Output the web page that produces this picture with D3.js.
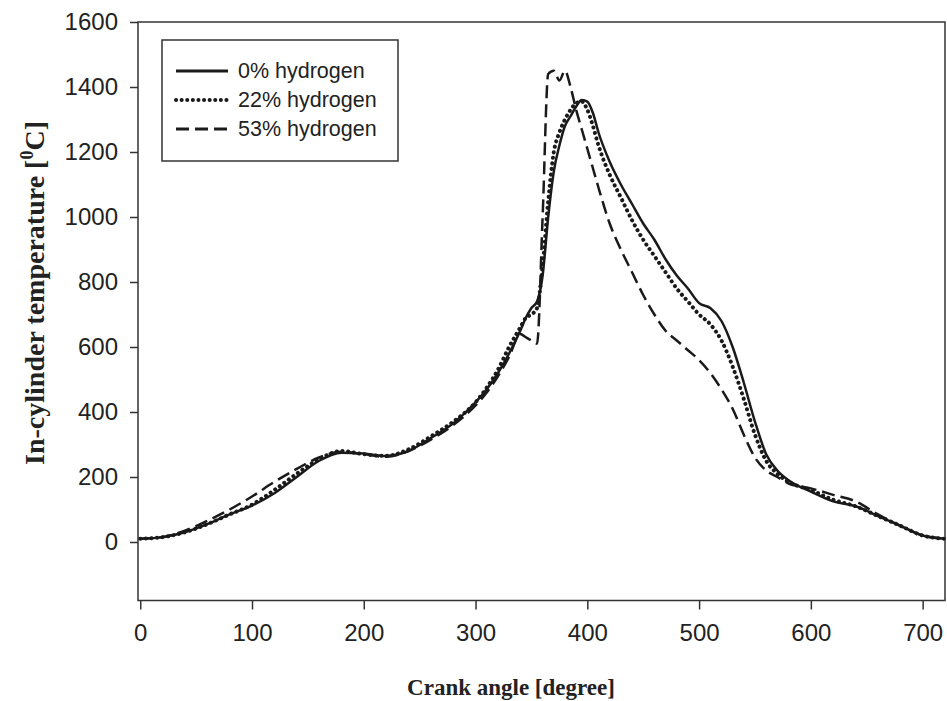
<!DOCTYPE html>
<html>
<head>
<meta charset="utf-8">
<script src="https://cdn.jsdelivr.net/npm/d3@7"></script>
<style>
  body { margin: 0; background: #fff; }
  .tick text { font-family: "Liberation Sans", Arial, sans-serif; font-size: 24px; fill: #222; }
  .title { font-family: "Liberation Serif", "Times New Roman", serif; font-weight: bold; font-size: 23px; fill: #222; }
  .legend text { font-family: "Liberation Sans", Arial, sans-serif; font-size: 21.5px; fill: #222; }
</style>
</head>
<body>
<div id="chart"></div>
<script>
// crank angles (degree)
var angles = [0,20,40,60,80,100,120,140,160,180,
              200,220,240,260,280,300,310,320,330,340,
              345,350,355,360,365,370,375,380,385,390,
              395,400,405,410,420,430,440,450,460,470,
              480,490,500,510,520,530,540,550,560,570,
              580,600,620,640,660,680,700,720];

// in-cylinder temperature [C]
var h0 = [10,15,30,55,85,112,150,200,250,275,
          272,265,280,320,365,430,470,520,580,650,
          690,720,740,820,1000,1140,1220,1280,1310,1340,
          1360,1355,1320,1260,1170,1100,1040,980,930,870,
          820,780,735,720,680,600,490,370,270,220,
          190,155,125,110,80,50,20,10];

var h22 = [10,15,30,55,85,115,160,210,255,280,
           270,265,285,325,370,430,475,530,600,660,
           690,700,720,850,1050,1200,1260,1300,1330,1350,
           1355,1330,1280,1220,1130,1060,990,930,880,830,
           780,740,700,670,620,540,440,330,250,210,
           185,160,130,110,80,50,20,10];

var h53 = [10,15,35,65,100,140,185,225,260,278,
           270,262,280,315,360,420,460,510,570,640,
           630,620,610,1000,1440,1450,1420,1450,1400,1330,
           1270,1210,1150,1090,980,900,830,760,700,650,
           620,590,560,520,470,410,330,260,220,200,
           180,165,145,125,85,50,20,10];

var seriesNames = ["0% hydrogen", "22% hydrogen", "53% hydrogen"];
var yTicks = [0,200,400,600,800,1000,1200,1400,1600];
var xTicks = [0,100,200,300,400,500,600,700];

var width = 947, height = 701;
var svg = d3.select("#chart").append("svg")
  .attr("width", width).attr("height", height);

var x = d3.scaleLinear().domain([-2, 720]).range([138, 945]);
var y = d3.scaleLinear().domain([-180, 1600]).range([600.5, 22]);

// frame
svg.append("rect")
  .attr("x", x(-2)).attr("y", y(1600))
  .attr("width", x(720) - x(-2)).attr("height", y(-180) - y(1600))
  .attr("fill", "none").attr("stroke", "#333").attr("stroke-width", 1.5);

// axes
svg.append("g")
  .attr("transform", "translate(" + x(-2) + ",0)")
  .call(d3.axisLeft(y).tickValues(yTicks).tickFormat(d3.format("d")).tickSize(8).tickPadding(12));
svg.append("g")
  .attr("transform", "translate(0," + y(-180) + ")")
  .call(d3.axisBottom(x).tickValues(xTicks).tickFormat(d3.format("d")).tickSize(9).tickPadding(14));
svg.selectAll(".domain").remove();
svg.selectAll(".tick line").attr("stroke", "#333").attr("stroke-width", 1.5);

// axis titles
svg.append("text").attr("class", "title")
  .attr("x", 511).attr("y", 695).attr("text-anchor", "middle")
  .text("Crank angle [degree]");

var yt = svg.append("text").attr("class", "title")
  .style("font-size", "28px")
  .attr("transform", "translate(44,293) rotate(-90)")
  .attr("text-anchor", "middle");
yt.append("tspan").text("In-cylinder temperature [");
yt.append("tspan").style("font-size", "18px").attr("dy", -11).text("0");
yt.append("tspan").attr("dy", 11).text("C]");

// lines
var line = d3.line()
  .x(function(d, i) { return x(angles[i]); })
  .y(function(d) { return y(d); })
  .curve(d3.curveMonotoneX);

var styles = [
  {dash: null, width: 2.5, cap: "butt"},
  {dash: "0.1,5.5", width: 4, cap: "round"},
  {dash: "13,6", width: 2.5, cap: "butt"}
];
var data = [h0, h22, h53];

data.forEach(function(s, k) {
  svg.append("path")
    .datum(s)
    .attr("fill", "none")
    .attr("stroke", "#1a1a1a")
    .attr("stroke-width", styles[k].width)
    .attr("stroke-linecap", styles[k].cap)
    .attr("stroke-dasharray", styles[k].dash)
    .attr("d", line);
});

// legend
var lg = svg.append("g").attr("class", "legend");
lg.append("rect")
  .attr("x", 162).attr("y", 40).attr("width", 236).attr("height", 121)
  .attr("fill", "#fff").attr("stroke", "#333").attr("stroke-width", 1.5);
seriesNames.forEach(function(name, k) {
  var ly = 71 + k * 29;
  lg.append("line")
    .attr("x1", 176).attr("x2", 228).attr("y1", ly).attr("y2", ly)
    .attr("stroke", "#1a1a1a")
    .attr("stroke-width", k == 1 ? 4 : 3)
    .attr("stroke-linecap", styles[k].cap)
    .attr("stroke-dasharray", styles[k].dash);
  lg.append("text")
    .attr("x", 238).attr("y", ly + 7)
    .text(name);
});
</script>
</body>
</html>
